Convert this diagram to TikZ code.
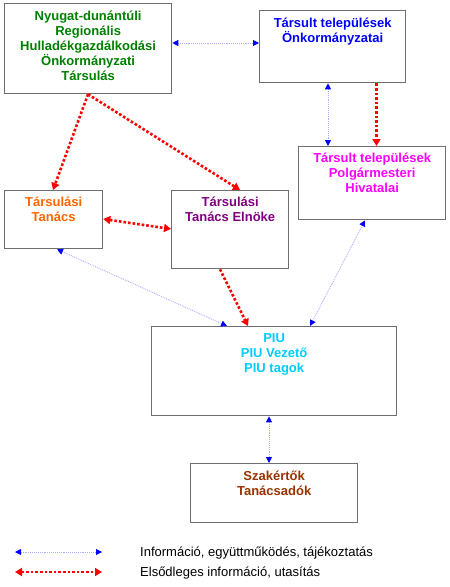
\documentclass[tikz,border=0pt]{standalone}
\usepackage{fontspec}
\setmainfont{Liberation Sans}
\usetikzlibrary{arrows.meta,calc}
\definecolor{cGreen}{RGB}{0,128,0}
\definecolor{cBlue}{RGB}{0,0,255}
\definecolor{cMag}{RGB}{255,0,255}
\definecolor{cOrange}{RGB}{255,102,0}
\definecolor{cPurple}{RGB}{128,0,128}
\definecolor{cCyan}{RGB}{0,204,255}
\definecolor{cBrown}{RGB}{153,51,0}
\definecolor{boxgray}{RGB}{110,110,110}
\definecolor{infoline}{RGB}{175,175,255}
\begin{document}
\begin{tikzpicture}[x=1pt,y=-1pt,
  box/.style={draw=boxgray, line width=1.3pt, rectangle, inner sep=0pt, anchor=north west},
  lbl/.style={anchor=north, inner sep=0pt, align=center, font=\fontsize{13}{15}\selectfont\bfseries},
  legtext/.style={anchor=base west, inner sep=0pt, font=\fontsize{13}{15}\selectfont},
  bluetip/.tip={Triangle[length=6pt,width=6pt,color=blue]},
  redtip/.tip={Triangle[length=7pt,width=8pt,color=red]},
  info/.style={draw=infoline, line width=0.9pt, densely dotted, bluetip-bluetip},
  prim/.style={draw=red, line width=2.6pt, dash pattern=on 2.6pt off 2pt, -redtip},
  primboth/.style={draw=red, line width=2.6pt, dash pattern=on 2.6pt off 2pt, redtip-redtip}
]
\useasboundingbox[fill=white] (0,0) rectangle (450,587);

% boxes
\node[box, minimum width=167pt, minimum height=90pt] (ny) at (4,3) {};
\node[box, minimum width=146pt, minimum height=72pt] (ot) at (259,10) {};
\node[box, minimum width=147pt, minimum height=73pt] (pg) at (298,146) {};
\node[box, minimum width=98pt, minimum height=58pt] (tt) at (4,190) {};
\node[box, minimum width=117pt, minimum height=78pt] (el) at (171,190) {};
\node[box, minimum width=245pt, minimum height=89pt] (piu) at (151,326) {};
\node[box, minimum width=167pt, minimum height=59pt] (sz) at (190,463) {};

% labels
\node[lbl, text=cGreen] (nyl) at ($(ny.north)+(0,7.5)$) {Nyugat-dunántúli\\Regionális\\Hulladékgazdálkodási\\Önkormányzati\\Társulás};
\node[lbl, text=cBlue] (otl) at ($(ot.north)+(0,7.5)$) {Társult települések\\Önkormányzatai};
\node[lbl, text=cMag] (pgl) at ($(pg.north)+(0,7)$) {Társult települések\\Polgármesteri\\Hivatalai};
\node[lbl, text=cOrange] (ttl) at ($(tt.north)+(0,7)$) {Társulási\\Tanács};
\node[lbl, text=cPurple] (ell) at ($(el.north)+(0,7)$) {Társulási\\Tanács Elnöke};
\node[lbl, text=cCyan] (piul) at ($(piu.north)+(0,7.5)$) {PIU\\PIU Vezető\\PIU tagok};
\node[lbl, text=cBrown] (szl) at ($(sz.north)+(0,7.5)$) {Szakértők\\Tanácsadók};

% connectors
\draw[info] ($(ny.north east)+(0,40)$) -- ($(ot.north west)+(0,33)$);
\draw[info] ($(ot.south west)+(69,0)$) -- ($(pg.north west)+(30,0)$);
\draw[prim] ($(ot.south west)+(117.5,0)$) -- ($(pg.north west)+(78.5,0)$);
\draw[prim] ($(ny.south west)+(84,0)$) -- ($(tt.north west)+(49,0)$);
\draw[prim] ($(ny.south west)+(84,0)$) -- ($(el.north west)+(69,0)$);
\draw[primboth] ($(tt.north east)+(0,29)$) -- ($(el.north west)+(0,39)$);
\draw[info] ($(tt.south west)+(53,0)$) -- ($(piu.north west)+(76,0)$);
\draw[prim] ($(el.south west)+(49,0)$) -- ($(piu.north west)+(97,0)$);
\draw[info] ($(pg.south west)+(67,0)$) -- ($(piu.north west)+(159,0)$);
\draw[info] ($(piu.south west)+(118,0)$) -- ($(sz.north west)+(79,0)$);

% legend
\coordinate (l1a) at (15,552);
\coordinate (l1b) at (102,552);
\coordinate (l2a) at (15,572);
\coordinate (l2b) at (102,572);
\draw[info] (l1a) -- (l1b);
\draw[primboth] (l2a) -- (l2b);
\node[legtext] (lt1) at (140,556.5) {Információ, együttműködés, tájékoztatás};
\node[legtext] (lt2) at (140,576.5) {Elsődleges információ, utasítás};
\end{tikzpicture}
\end{document}
